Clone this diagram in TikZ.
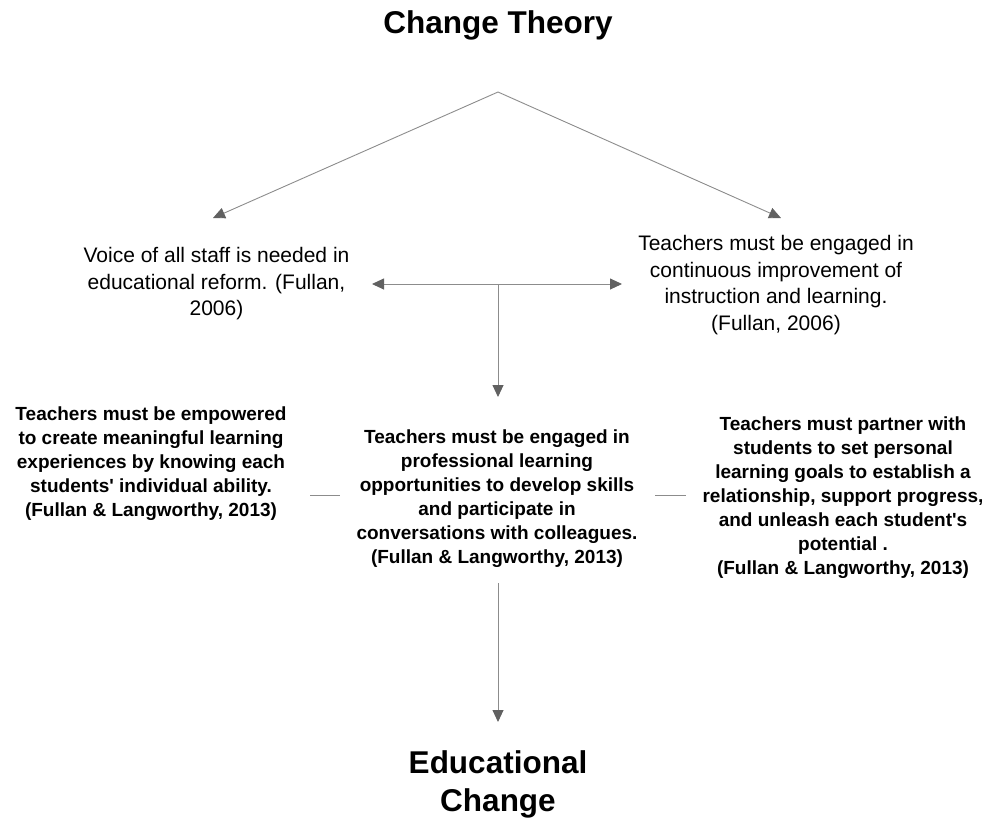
\documentclass[tikz,border=0pt]{standalone}
\usepackage{fontspec}
\setmainfont{Liberation Sans}
\usetikzlibrary{arrows.meta}
\begin{document}
\begin{tikzpicture}[x=1pt,y=-1pt,
  link/.style={draw=black!45,line width=0.9pt},
  tip/.style={-{Triangle[length=12pt,width=11pt,color=black!62,fill=black!62]}},
  plain/.style={align=center,inner sep=0pt,font=\fontsize{21}{26.5}\selectfont},
  strong/.style={align=center,inner sep=0pt,font=\bfseries\fontsize{19}{24}\selectfont},
  heading/.style={align=center,inner sep=0pt,font=\bfseries\fontsize{31.5}{38}\selectfont}]
\useasboundingbox (0,0) rectangle (988,817);

% titles
\node[heading] (theory) at (498,25) {Change Theory};
\node[heading] (edu) at (498,784) {Educational\\Change};

% first level statements
\node[plain] (voice) at (216.5,284) {Voice of all staff is needed in\\educational reform. (Fullan,\\2006)};
\node[plain] (engaged) at (776,285) {Teachers must be engaged in\\continuous improvement of\\instruction and learning.\\(Fullan, 2006)};

% second level statements
\node[strong] (empower) at (151,464) {Teachers must be empowered\\to create meaningful learning\\experiences by knowing each\\students\textquotesingle\ individual ability.\\(Fullan \& Langworthy, 2013)};
\node[strong] (prof) at (497,499) {Teachers must be engaged in\\professional learning\\opportunities to develop skills\\and participate in\\conversations with colleagues.\\(Fullan \& Langworthy, 2013)};
\node[strong] (partner) at (843,498) {Teachers must partner with\\students to set personal\\learning goals to establish a\\relationship, support progress,\\and unleash each student\textquotesingle s\\potential .\\(Fullan \& Langworthy, 2013)};

% connector points
\coordinate (apex) at (498,92);
\coordinate (leftend) at (213,218);
\coordinate (rightend) at (781,218);
\coordinate (hubL) at (372,284);
\coordinate (hubR) at (622,284);
\coordinate (hub) at (498,284);
\coordinate (hubdown) at (498,397);
\coordinate (profL) at (340,495);
\coordinate (empR) at (310,495);
\coordinate (profR) at (655,495);
\coordinate (partL) at (686,495);
\coordinate (profbot) at (498,583);
\coordinate (edutop) at (498,722);

% branches from the title
\draw[link,tip] (apex) -- (leftend);
\draw[link,tip] (apex) -- (rightend);

% link between the two first level statements
\draw[link,tip] (hub) -- (hubL);
\draw[link,tip] (hub) -- (hubR);
\draw[link,tip] (hub) -- (hubdown);

% side ties
\draw[link] (empR) -- (profL);
\draw[link] (profR) -- (partL);

% down to the outcome
\draw[link,tip] (profbot) -- (edutop);
\end{tikzpicture}
\end{document}
